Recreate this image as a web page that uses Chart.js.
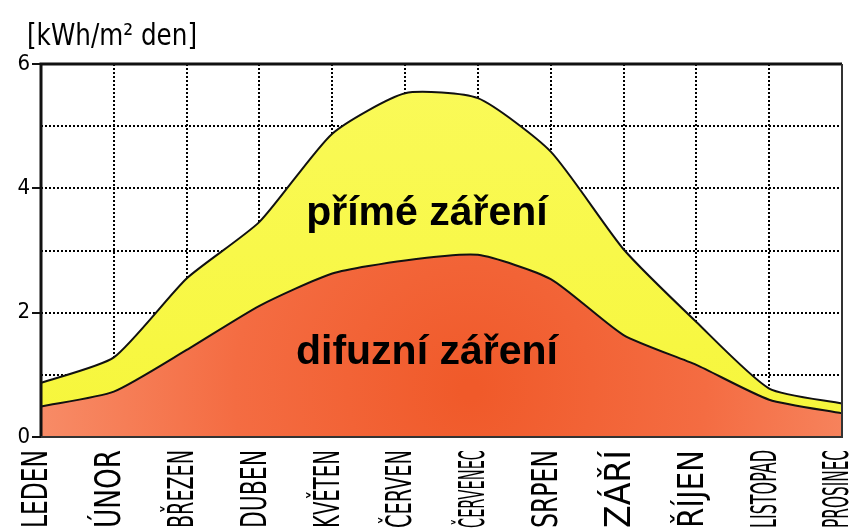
<!DOCTYPE html>
<html>
<head>
<meta charset="utf-8">
<script src="https://cdn.jsdelivr.net/npm/chart.js@4.4.1/dist/chart.umd.min.js"></script>
<style>
  html, body { margin: 0; padding: 0; background: #fff; }
  #wrap { width: 853px; height: 531px; position: relative; }
</style>
</head>
<body>
<div id="wrap"><canvas id="chartZareni"></canvas></div>
<script>
const mesice = ["LEDEN", "ÚNOR", "BŘEZEN", "DUBEN", "KVĚTEN", "ČERVEN", "ČERVENEC", "SRPEN", "ZÁŘÍ", "ŘÍJEN", "LISTOPAD", "PROSINEC"];
const celkem = [0.87, 1.28, 2.55, 3.46, 4.88, 5.53, 5.45, 4.59, 3.02, 1.85, 0.78, 0.54];
const difuzni = [0.49, 0.73, 1.40, 2.11, 2.63, 2.84, 2.93, 2.54, 1.64, 1.16, 0.60, 0.38];
const yTicks = [0, 2, 4, 6];
const jednotka = "[kWh/m² den]";
const popisky = [
    { text: "přímé záření", x: 5.3, y: 3.6 },
    { text: "difuzní záření", x: 5.3, y: 1.35 }
];

const LABEL_FONT = '"Liberation Sans Narrow", "DejaVu Sans Condensed", "Liberation Sans", sans-serif';

function redGradient(context) {
    const ch = context.chart;
    const a = ch.chartArea;
    if (!a) return "#f47048";
    const g = ch.ctx.createRadialGradient(470, 390, 10, 470, 390, 460);
    g.addColorStop(0, "#f05a2a");
    g.addColorStop(0.5, "#f46c42");
    g.addColorStop(1, "#f8906c");
    return g;
}

function yellowGradient(context) {
    const ch = context.chart;
    const a = ch.chartArea;
    if (!a) return "#f8f850";
    const g = ch.ctx.createLinearGradient(0, a.top, 0, a.bottom);
    g.addColorStop(0, "#fafa5a");
    g.addColorStop(1, "#f6f63a");
    return g;
}

// text roztazeny/stlaceny presne na danou delku
function fitText(ctx, text, x, y, width) {
    const w = ctx.measureText(text).width;
    ctx.save();
    ctx.translate(x, y);
    ctx.scale(width / w, 1);
    ctx.fillText(text, 0, 0);
    ctx.restore();
}

const dekorace = {
    id: "dekorace",
    afterDraw(chart) {
        const ctx = chart.ctx;
        const a = chart.chartArea;
        const xs = chart.scales.x;
        const ys = chart.scales.y;

        // ramecek
        ctx.save();
        ctx.strokeStyle = "#111";
        ctx.lineWidth = 3;
        ctx.beginPath();
        ctx.moveTo(a.left, a.bottom);
        ctx.lineTo(a.left, a.top);
        ctx.lineTo(a.right, a.top);
        ctx.stroke();
        ctx.lineWidth = 2;
        ctx.strokeStyle = "#333";
        ctx.beginPath();
        ctx.moveTo(a.right, a.top);
        ctx.lineTo(a.right, a.bottom);
        ctx.lineTo(a.left, a.bottom);
        ctx.stroke();
        ctx.restore();

        // mesice, vsechny na stejnou delku
        ctx.save();
        ctx.fillStyle = "#000";
        ctx.font = "36px " + LABEL_FONT;
        ctx.textAlign = "right";
        ctx.textBaseline = "middle";
        mesice.forEach((m, i) => {
            const x = xs.getPixelForValue(i) - 3;
            ctx.save();
            ctx.translate(x, a.bottom + 13);
            ctx.rotate(-Math.PI / 2);
            fitText(ctx, m, 0, 0, 78);
            ctx.restore();
        });
        ctx.restore();

        // jednotka
        ctx.save();
        ctx.fillStyle = "#000";
        ctx.font = "30px " + LABEL_FONT;
        ctx.textBaseline = "alphabetic";
        ctx.textAlign = "left";
        fitText(ctx, jednotka, 27, 45, 170);
        ctx.restore();

        // popisky ploch
        ctx.save();
        ctx.fillStyle = "#000";
        ctx.font = 'bold 41px "Liberation Sans", Arial, sans-serif';
        ctx.textAlign = "center";
        ctx.textBaseline = "middle";
        popisky.forEach(p => {
            ctx.fillText(p.text, xs.getPixelForValue(p.x), ys.getPixelForValue(p.y));
        });
        ctx.restore();
    }
};

new Chart(document.getElementById("chartZareni"), {
    type: "line",
    data: {
        labels: mesice,
        datasets: [
            {
                label: "difuzní záření",
                data: difuzni,
                borderColor: "#111",
                borderWidth: 2,
                backgroundColor: redGradient,
                fill: "origin",
                pointRadius: 0,
                tension: 0.2
            },
            {
                label: "přímé záření",
                data: celkem,
                borderColor: "#111",
                borderWidth: 2,
                backgroundColor: yellowGradient,
                fill: "-1",
                pointRadius: 0,
                tension: 0.2
            }
        ]
    },
    plugins: [dekorace],
    options: {
        responsive: true,
        maintainAspectRatio: false,
        animation: false,
        layout: { padding: { left: 0, top: 64, right: 11, bottom: 0 } },
        plugins: {
            legend: { display: false },
            tooltip: { enabled: false }
        },
        scales: {
            x: {
                offset: false,
                z: 1,
                ticks: { display: false },
                grid: {
                    drawTicks: false,
                    color: ctx => (ctx.index === 0 || ctx.index === mesice.length - 1) ? "transparent" : "#000",
                    lineWidth: 2
                },
                border: { display: false, dash: [2, 2] },
                afterFit(scale) { scale.height = 94; }
            },
            y: {
                min: 0,
                max: 6,
                z: 1,
                ticks: {
                    stepSize: 1,
                    color: "#000",
                    padding: 2,
                    font: { size: 22, family: LABEL_FONT },
                    callback: v => yTicks.includes(v) ? String(v) : ""
                },
                grid: {
                    color: ctx => (ctx.tick && (ctx.tick.value === 0 || ctx.tick.value === 6)) ? "transparent" : "#000",
                    tickColor: ctx => (ctx.tick && ctx.tick.value % 2 === 0) ? "#111" : "transparent",
                    tickLength: 9,
                    lineWidth: 2
                },
                border: { display: false, dash: [2, 2] },
                afterFit(scale) { scale.width = 41; }
            }
        }
    }
});
</script>
</body>
</html>
